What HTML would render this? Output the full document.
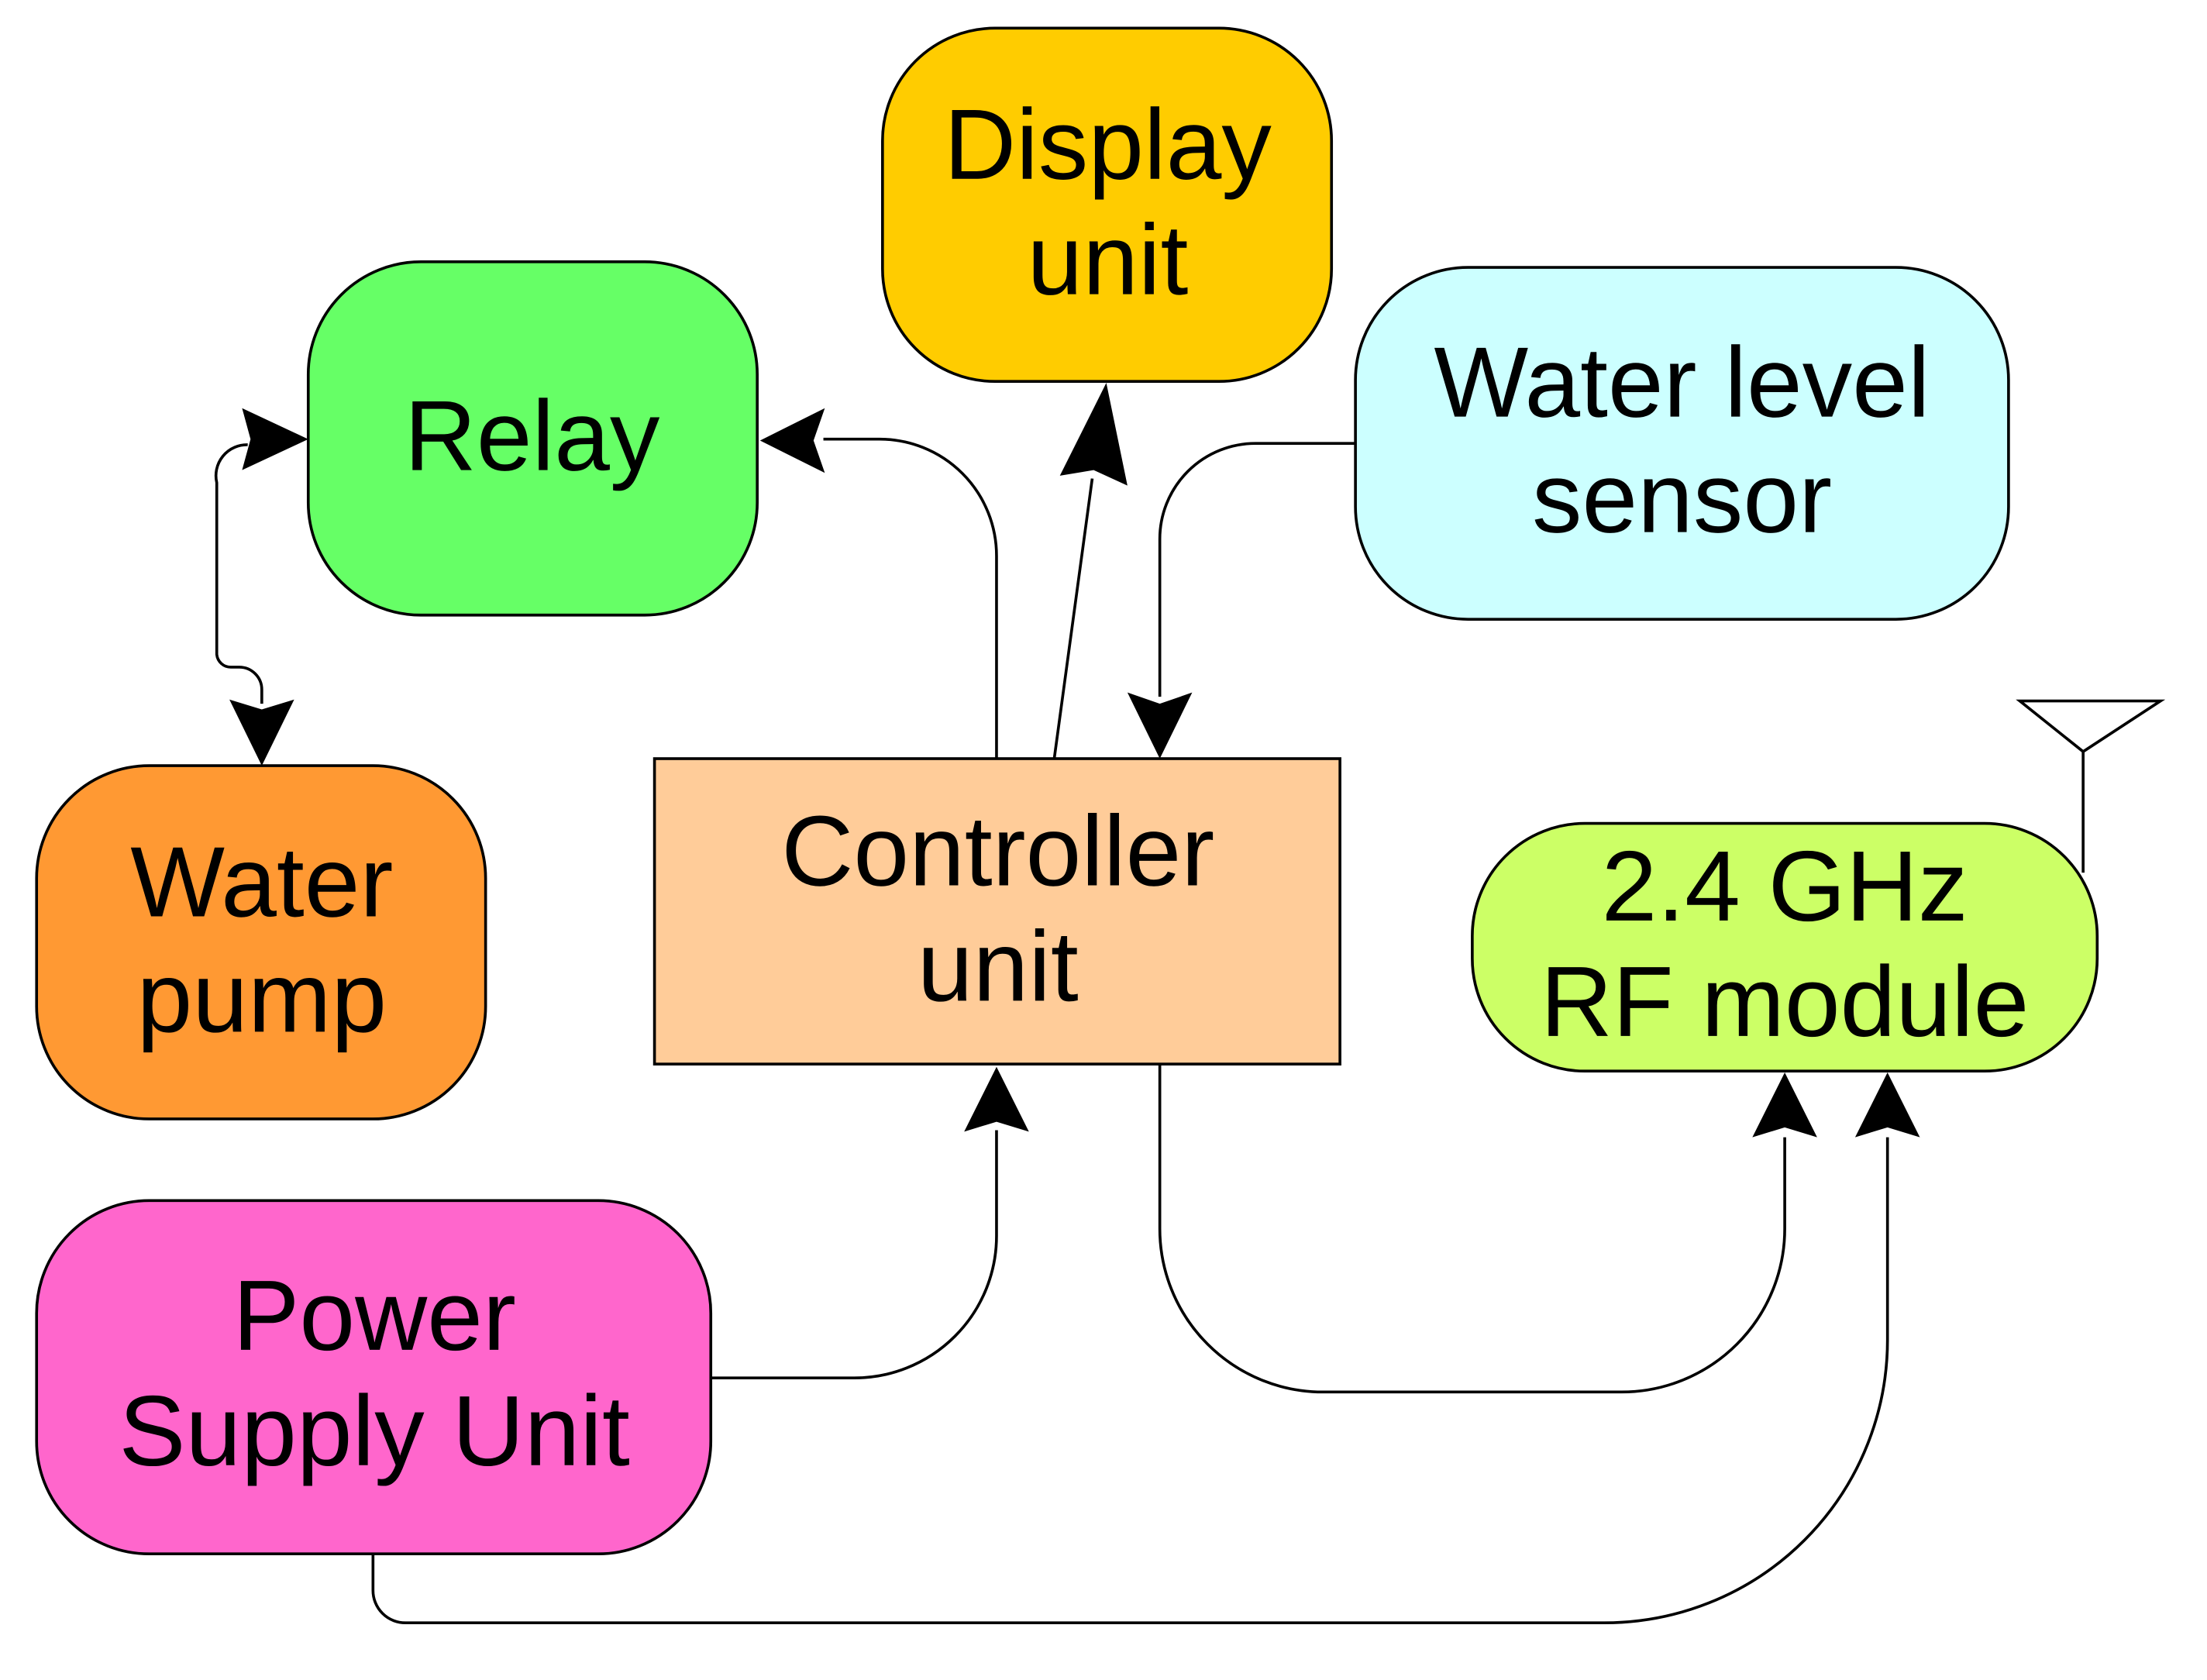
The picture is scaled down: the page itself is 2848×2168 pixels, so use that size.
<!DOCTYPE html>
<html><head><meta charset="utf-8"><style>
html,body{margin:0;padding:0;background:#fff;}
svg{display:block;}
text{font-family:"Liberation Sans",sans-serif;font-size:71px;fill:#000;text-anchor:middle;}
</style></head><body>
<svg width="2848" height="2168" viewBox="0 0 1568 1193.6" xmlns="http://www.w3.org/2000/svg">
<g stroke="#000" stroke-width="2">
<rect x="627" y="20" width="319" height="251" rx="80" fill="#FFCC00"/>
<rect x="219" y="186" width="319" height="251" rx="80" fill="#66FF66"/>
<rect x="963" y="190" width="464" height="250" rx="80" fill="#CCFFFF"/>
<rect x="26" y="544" width="319" height="251" rx="80" fill="#FF9933"/>
<rect x="465" y="539" width="487" height="217" fill="#FFCC99"/>
<rect x="1046" y="585" width="444" height="176" rx="80" fill="#CCFF66"/>
<rect x="26" y="853" width="479" height="251" rx="80" fill="#FF66CC"/>
</g>
<g fill="none" stroke="#000" stroke-width="2">
<path d="M708 539 V395 A83 83 0 0 0 625 312 H585"/>
<path d="M749 539 L776 340"/>
<path d="M963 315 H892 A68 68 0 0 0 824 383 V495"/>
<path d="M176 316 A22 22 0 0 0 154 343 V465 A10 10 0 0 0 164 474 H170 A16 16 0 0 1 186 490 V500"/>
<path d="M505 979 H607 A101 101 0 0 0 708 878 V803"/>
<path d="M824 756 V873 A116 116 0 0 0 940 989 H1152 A116 116 0 0 0 1268 873 V808"/>
<path d="M265 1104 V1130 A23 23 0 0 0 288 1153 H1140 A201 201 0 0 0 1341 952 V808"/>
<path d="M1480 620 V534 L1435 498 H1535 L1480 534"/>
</g>
<g fill="#000">
<polygon points="540,313 586,290 578,313 586,336"/>
<polygon points="786,272 753,338 777,334 801,345"/>
<polygon points="824,539 801,492 824,500 847,492"/>
<polygon points="219,312 172,290 178,312 172,334"/>
<polygon points="186,544 163,497 186,504 209,497"/>
<polygon points="708,758 685,804 708,797 731,804"/>
<polygon points="1268,762 1245,808 1268,801 1291,808"/>
<polygon points="1341,762 1318,808 1341,801 1364,808"/>
</g>
<text x="787" y="127">Display</text><text x="787" y="209">unit</text>
<text x="378" y="334">Relay</text>
<text x="1195" y="296">Water level</text><text x="1195" y="378">sensor</text>
<text x="186" y="651">Water</text><text x="186" y="733">pump</text>
<text x="709" y="629">Controller</text><text x="709" y="711">unit</text>
<text x="1268" y="654">2.4 GHz</text><text x="1268" y="736">RF module</text>
<text x="266" y="959">Power</text><text x="266" y="1041">Supply Unit</text>
</svg>
</body></html>
